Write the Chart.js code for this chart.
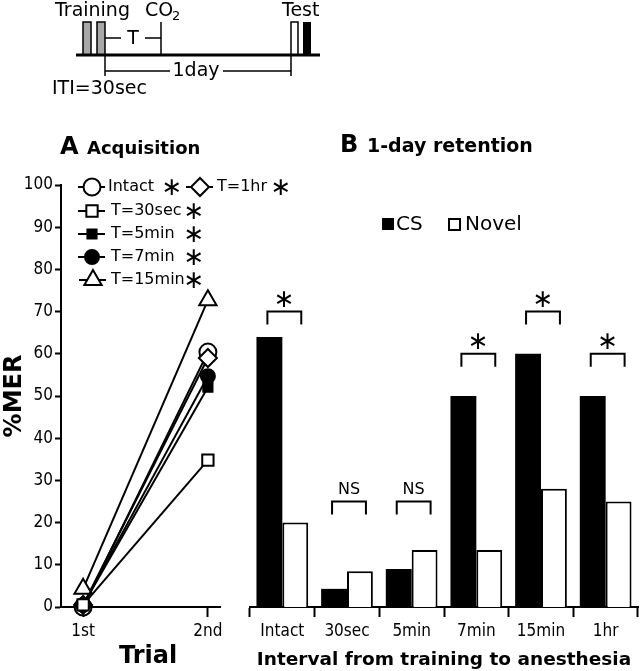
<!DOCTYPE html>
<html>
<head>
<meta charset="utf-8">
<script src="https://cdn.jsdelivr.net/npm/chart.js@4"></script>
<style>
  body { margin: 0; background: #fff; }
  #wrap { position: relative; width: 640px; height: 671px; overflow: hidden; }
  #wrap canvas { position: absolute; }
</style>
</head>
<body>
<div id="wrap">
  <canvas id="scheme" width="640" height="110" style="left:0;top:0"></canvas>
  <canvas id="ret" width="405" height="541" style="left:235px;top:130px"></canvas>
  <canvas id="acq" width="300" height="541" style="left:0;top:130px"></canvas>
</div>
<script>
// Panel A: acquisition (%MER per trial)
const trials = ["1st", "2nd"];
const intactAcq = [0, 60.4];
const t30secAcq = [0.5, 34.8];
const t5minAcq = [0.5, 52.1];
const t7minAcq = [0.5, 54.7];
const t15minAcq = [4.3, 72.7];
const t1hrAcq = [0.5, 59];

// Panel B: 1-day retention
const intervals = ["Intact", "30sec", "5min", "7min", "15min", "1hr"];
const csRet = [64, 4.3, 9, 50, 60, 50];
const novelRet = [20, 8.5, 13.5, 13.5, 28, 25];
const sigLabels = ["∗", "NS", "NS", "∗", "∗", "∗"];
const bracketTop = [70, 25, 25, 60, 70, 60];

const FONT = "'DejaVu Sans', Verdana, sans-serif";
const TICKFONT = "'DejaVu Sans Condensed', 'DejaVu Sans', sans-serif";
Chart.defaults.font.family = FONT;
Chart.defaults.color = "#000";

// Timeline schematic at the top
function drawScheme() {
    const ctx = document.getElementById("scheme").getContext("2d");
    ctx.strokeStyle = "#000";
    ctx.fillStyle = "#000";
    ctx.font = `19px ${FONT}`;
    ctx.textBaseline = "alphabetic";
    ctx.fillText("Training", 55, 16);
    ctx.fillText("CO", 145, 16);
    ctx.font = `13px ${FONT}`;
    ctx.fillText("2", 172, 20);
    ctx.font = `19px ${FONT}`;
    ctx.fillText("Test", 282, 16);

    // training trials
    ctx.fillStyle = "#a8a8a8";
    ctx.lineWidth = 1.5;
    [[83, 91], [97, 105]].forEach(([a, b]) => {
        ctx.fillRect(a, 22, b - a, 33);
        ctx.strokeRect(a, 22, b - a, 33);
    });
    // test trials
    ctx.fillStyle = "#fff";
    ctx.fillRect(291, 22, 7, 33);
    ctx.strokeRect(291, 22, 7, 33);
    ctx.fillStyle = "#000";
    ctx.fillRect(303, 22, 8, 33);

    // baseline
    ctx.lineWidth = 3;
    ctx.beginPath(); ctx.moveTo(76, 55); ctx.lineTo(320, 55); ctx.stroke();

    ctx.lineWidth = 1.5;
    ctx.beginPath();
    // T bracket
    ctx.moveTo(105, 38); ctx.lineTo(121, 38);
    ctx.moveTo(145, 38); ctx.lineTo(161, 38);
    ctx.moveTo(161, 22); ctx.lineTo(161, 55);
    // 1day bracket
    ctx.moveTo(105, 55); ctx.lineTo(105, 76);
    ctx.moveTo(105, 71); ctx.lineTo(170, 71);
    ctx.moveTo(223, 71); ctx.lineTo(291, 71);
    ctx.moveTo(291, 55); ctx.lineTo(291, 76);
    ctx.stroke();

    ctx.textAlign = "center";
    ctx.textBaseline = "middle";
    ctx.fillText("T", 133, 39);
    ctx.fillText("1day", 196, 71);
    ctx.textAlign = "left";
    ctx.textBaseline = "alphabetic";
    ctx.fillText("ITI=30sec", 52, 94);
}
drawScheme();

// Panel A
const acqSeries = [
    { label: "T=30sec", data: t30secAcq, pointStyle: "rect", radius: 8, fill: "#fff" },
    { label: "T=5min", data: t5minAcq, pointStyle: "rect", radius: 6.5, fill: "#000" },
    { label: "T=15min", data: t15minAcq, pointStyle: "triangle", radius: 10, fill: "#fff" },
    { label: "T=7min", data: t7minAcq, pointStyle: "circle", radius: 7, fill: "#000" },
    { label: "T=1hr", data: t1hrAcq, pointStyle: "rectRot", radius: 9, fill: "#fff" },
    { label: "Intact", data: intactAcq, pointStyle: "circle", radius: 8.5, fill: "#fff" }
];

const acqDecor = {
    id: "acqDecor",
    afterDraw(chart) {
        const ctx = chart.ctx;
        ctx.save();
        ctx.fillStyle = "#000";
        ctx.textBaseline = "middle";
        ctx.font = `bold 24px ${FONT}`;
        ctx.fillText("A", 60, 18);
        ctx.font = `bold 18px ${FONT}`;
        ctx.fillText("Acquisition", 87, 19);

        ctx.font = `bold 24px ${FONT}`;
        ctx.textAlign = "center";
        ctx.fillText("Trial", 148, 527);
        ctx.textAlign = "left";

        // legend: [label, marker x, row y, text x, star x]
        const rows = [
            ["Intact", 92, 57, 108, 172],
            ["T=30sec", 92, 81, 111, 194],
            ["T=5min", 92, 104, 111, 194],
            ["T=7min", 92, 127, 111, 194],
            ["T=15min", 93, 150, 111, 194],
            ["T=1hr", 200, 57, 217, 281]
        ];
        rows.forEach(([label, mx, my, tx, sx]) => {
            const ds = chart.data.datasets.find(d => d.label === label);
            ctx.strokeStyle = "#000";
            ctx.lineWidth = 2;
            ctx.beginPath();
            ctx.moveTo(mx - 14, my); ctx.lineTo(mx + 13, my);
            ctx.stroke();
            ctx.fillStyle = ds.pointBackgroundColor;
            Chart.helpers.drawPoint(ctx, { pointStyle: ds.pointStyle, radius: ds.pointRadius, rotation: 0, borderWidth: 2 }, mx, my);
            ctx.fillStyle = "#000";
            ctx.font = `16px ${FONT}`;
            ctx.textAlign = "left";
            ctx.fillText(label, tx, my);
            ctx.font = `25px ${FONT}`;
            ctx.textAlign = "center";
            ctx.fillText("∗", sx, my + 1);
        });
        ctx.restore();
    }
};

new Chart(document.getElementById("acq"), {
    type: "line",
    data: {
        datasets: acqSeries.map(s => ({
            label: s.label,
            data: s.data.map((v, i) => ({ x: i, y: v })),
            borderColor: "#000",
            borderWidth: 2,
            pointStyle: s.pointStyle,
            pointRadius: s.radius,
            pointBackgroundColor: s.fill,
            pointBorderColor: "#000",
            pointBorderWidth: 2,
            clip: false
        }))
    },
    options: {
        responsive: false,
        animation: false,
        layout: { padding: { top: 55, right: 80, left: 0, bottom: 0 } },
        plugins: { legend: { display: false }, tooltip: { enabled: false } },
        scales: {
            x: {
                type: "linear", min: -0.177, max: 1.097,
                afterBuildTicks: s => { s.ticks = trials.map((t, i) => ({ value: i })); },
                ticks: { callback: v => trials[v], font: { size: 17, family: TICKFONT }, padding: 4, maxRotation: 0 },
                grid: { drawOnChartArea: false, tickLength: 10, tickWidth: 2, tickColor: "#000" },
                border: { color: "#000", width: 2 },
                afterFit: s => { s.height = 64; }
            },
            y: {
                min: 0, max: 100,
                ticks: { stepSize: 10, font: { size: 17, family: TICKFONT }, padding: 2 },
                grid: { drawOnChartArea: false, tickLength: 6, tickWidth: 2, tickColor: "#000" },
                border: { color: "#000", width: 2 },
                title: { display: true, text: "%MER", font: { size: 24, weight: "bold" }, padding: 0 },
                afterFit: s => { s.width = 61; }
            }
        }
    },
    plugins: [acqDecor]
});

// Panel B
const retDecor = {
    id: "retDecor",
    afterDraw(chart) {
        const ctx = chart.ctx;
        const y = chart.scales.y;
        ctx.save();
        ctx.fillStyle = "#000";
        ctx.textBaseline = "middle";
        ctx.font = `bold 24px ${FONT}`;
        ctx.fillText("B", 105, 16);
        ctx.font = `bold 19px ${FONT}`;
        ctx.fillText("1-day retention", 132, 17);

        // legend
        ctx.font = `20px ${FONT}`;
        ctx.fillRect(147, 88, 12, 12);
        ctx.fillText(chart.data.datasets[0].label, 161, 95);
        ctx.strokeStyle = "#000";
        ctx.lineWidth = 2;
        ctx.strokeRect(214, 89, 11, 11);
        ctx.fillText(chart.data.datasets[1].label, 230, 95);

        // significance brackets
        const cs = chart.getDatasetMeta(0).data;
        const nv = chart.getDatasetMeta(1).data;
        ctx.textAlign = "center";
        intervals.forEach((c, i) => {
            const x1 = cs[i].x - 2, x2 = nv[i].x + 6;
            const yt = y.getPixelForValue(bracketTop[i]);
            ctx.beginPath();
            ctx.moveTo(x1, yt + 13); ctx.lineTo(x1, yt); ctx.lineTo(x2, yt); ctx.lineTo(x2, yt + 13);
            ctx.stroke();
            if (sigLabels[i] === "NS") {
                ctx.font = `16px ${FONT}`;
                ctx.fillText(sigLabels[i], (x1 + x2) / 2, yt - 12);
            } else {
                ctx.font = `25px ${FONT}`;
                ctx.fillText(sigLabels[i], (x1 + x2) / 2, yt - 11);
            }
        });
        ctx.restore();
    }
};

new Chart(document.getElementById("ret"), {
    type: "bar",
    data: {
        labels: intervals,
        datasets: [
            { label: "CS", data: csRet, backgroundColor: "#000", borderColor: "#000", borderWidth: 0 },
            { label: "Novel", data: novelRet, backgroundColor: "#fff", borderColor: "#000", borderWidth: 2 }
        ]
    },
    options: {
        responsive: false,
        animation: false,
        layout: { padding: { top: 55, right: 2, left: 15, bottom: 0 } },
        datasets: { bar: { categoryPercentage: 0.8, barPercentage: 1.0 } },
        plugins: { legend: { display: false }, tooltip: { enabled: false } },
        scales: {
            x: {
                ticks: { font: { size: 17, family: TICKFONT }, padding: 4, maxRotation: 0 },
                grid: { drawOnChartArea: false, offset: true, tickLength: 10, tickWidth: 2, tickColor: "#000" },
                border: { color: "#000", width: 2 },
                title: { display: true, text: "Interval from training to anesthesia", font: { size: 18.5, weight: "bold" }, padding: 0 },
                afterFit: s => { s.height = 64; }
            },
            y: { display: false, min: 0, max: 100 }
        }
    },
    plugins: [retDecor]
});
</script>
</body>
</html>
